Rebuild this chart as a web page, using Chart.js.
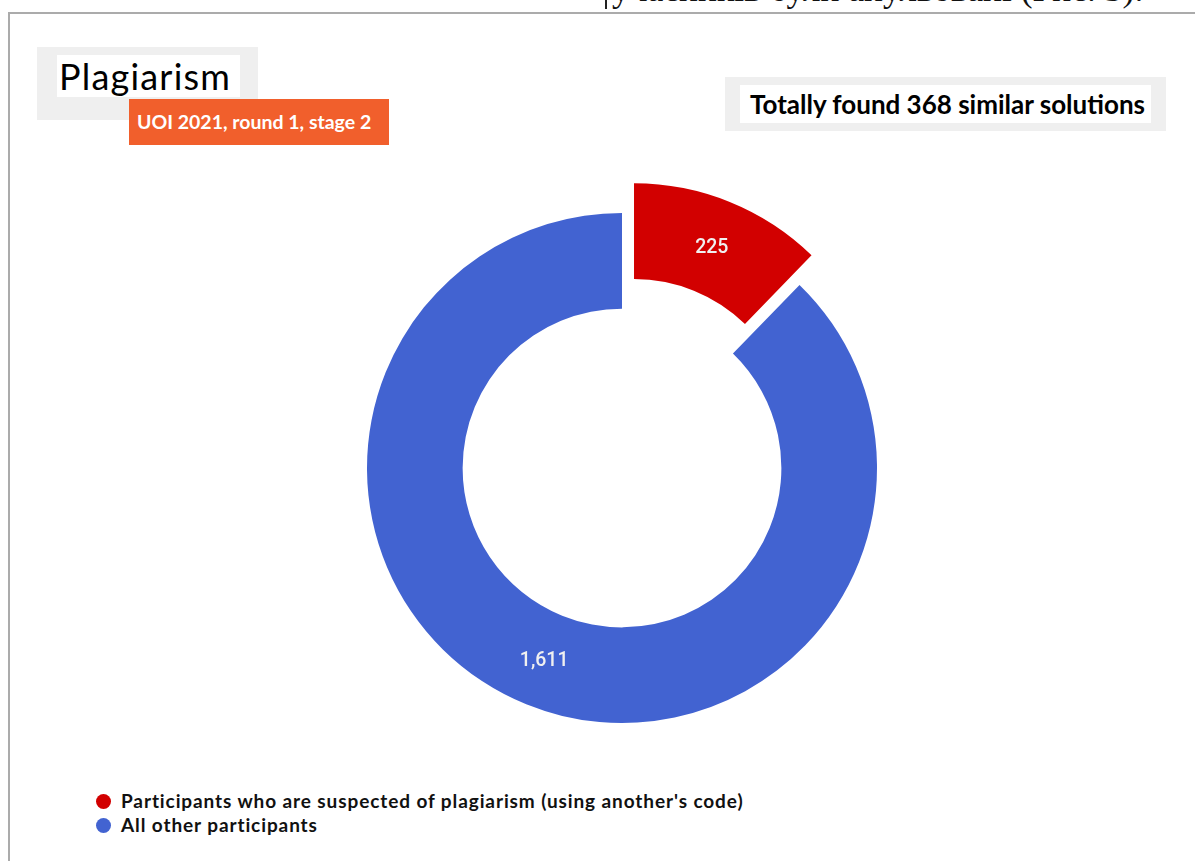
<!DOCTYPE html>
<html>
<head>
<meta charset="utf-8">
<script src="https://cdn.jsdelivr.net/npm/chart.js@4.4.0/dist/chart.umd.min.js"></script>
<style>
  html, body { margin: 0; padding: 0; background: #ffffff; }
  #page { position: relative; width: 1195px; height: 861px; overflow: hidden; background: #fff; }
  .abs { position: absolute; }
  #topText { left: 612px; top: -28px; font-family: "Liberation Serif", "DejaVu Serif", serif; font-size: 35.5px; color: #111; white-space: nowrap; line-height: 1; }
  #cursor { left: 605px; top: 0px; width: 2px; height: 9px; background: #222; }
  #frameTop { left: 8px; top: 12px; width: 1187px; height: 2px; background: #ababab; }
  #frameLeft { left: 8px; top: 12px; width: 2px; height: 849px; background: #ababab; }
  #titleBg { left: 37px; top: 47px; width: 221px; height: 73px; background: #efefef; }
  #titleWhite { left: 57px; top: 55px; width: 183px; height: 42px; background: #fff; }
  #title { left: 59px; top: 55px; font-family: Lato, "Open Sans", sans-serif; font-size: 36px; letter-spacing: 1.2px; color: #000; line-height: 42px; white-space: nowrap; }
  #subBox { left: 129px; top: 99px; width: 260px; height: 46px; background: #f15f2c; }
  #sub { left: 137px; top: 99px; font-family: Lato, "Open Sans", sans-serif; font-weight: 700; font-size: 19.5px; color: #fff; line-height: 46px; white-space: nowrap; }
  #totBg { left: 725px; top: 77px; width: 441px; height: 54px; background: #efefef; }
  #totWhite { left: 740px; top: 85px; width: 411px; height: 38px; background: #fff; }
  #tot { left: 750px; top: 85px; font-family: Lato, "Open Sans", sans-serif; font-weight: 700; font-size: 26px; color: #000; line-height: 38px; white-space: nowrap; }
  #chartWrap { left: 322px; top: 168px; width: 600px; height: 600px; }
  #legend { left: 96px; top: 789px; font-family: Lato, "Open Sans", sans-serif; font-weight: 700; font-size: 19px; letter-spacing: 0.9px; color: #111; }
  .li { height: 24px; line-height: 24px; white-space: nowrap; display: flex; align-items: center; }
  .dot { width: 15px; height: 15px; border-radius: 50%; margin-right: 10px; display: inline-block; }
</style>
</head>
<body>
<div id="page">
  <div id="cursor" class="abs"></div>
  <div id="topText" class="abs">учасників були анульовані (Рис. 3).</div>
  <div id="frameTop" class="abs"></div>
  <div id="frameLeft" class="abs"></div>

  <div id="titleBg" class="abs"></div>
  <div id="titleWhite" class="abs"></div>
  <div id="title" class="abs">Plagiarism</div>
  <div id="subBox" class="abs"></div>
  <div id="sub" class="abs">UOI 2021, round 1, stage 2</div>

  <div id="totBg" class="abs"></div>
  <div id="totWhite" class="abs"></div>
  <div id="tot" class="abs">Totally found 368 similar solutions</div>

  <div id="chartWrap" class="abs"><canvas id="c" width="600" height="600"></canvas></div>
  <div id="legend" class="abs"></div>
</div>
<script>
// ---- data ----
const categories = [
  "Participants who are suspected of plagiarism (using another's code)",
  "All other participants"
];
const values = [225, 1611];
const sliceColors = ["#d20000", "#4263d1"];
const sliceOffsets = [32, 0];   // explode distance in px

// ---- legend (HTML, built from data) ----
const legendEl = document.getElementById('legend');
categories.forEach((label, i) => {
  const row = document.createElement('div');
  row.className = 'li';
  const dot = document.createElement('span');
  dot.className = 'dot';
  dot.style.background = sliceColors[i];
  row.appendChild(dot);
  row.appendChild(document.createTextNode(label));
  legendEl.appendChild(row);
});

// ---- explode slices (pure translation along mid-angle) ----
const explode = {
  id: 'explode',
  afterDatasetsUpdate(chart) {
    const meta = chart.getDatasetMeta(0);
    meta.data.forEach((arc, i) => {
      const d = sliceOffsets[i] || 0;
      if (!d) return;
      const mid = (arc.startAngle + arc.endAngle) / 2;
      arc.x += Math.cos(mid) * d;
      arc.y += Math.sin(mid) * d;
    });
  }
};

// ---- in-slice value labels ----
const valueLabels = {
  id: 'valueLabels',
  afterDatasetsDraw(chart) {
    const ctx = chart.ctx;
    const meta = chart.getDatasetMeta(0);
    ctx.save();
    ctx.font = '500 19.5px Roboto, "Noto Sans", sans-serif';
    ctx.fillStyle = '#f0f0f0';
    ctx.textAlign = 'center';
    ctx.textBaseline = 'middle';
    meta.data.forEach((arc, i) => {
      const mid = (arc.startAngle + arc.endAngle) / 2;
      const r = (arc.innerRadius + arc.outerRadius) / 2;
      const x = arc.x + Math.cos(mid) * r;
      const y = arc.y + Math.sin(mid) * r + 1.5;
      ctx.fillText(values[i].toLocaleString('en-US'), x, y);
    });
    ctx.restore();
  }
};

new Chart(document.getElementById('c'), {
  type: 'doughnut',
  data: {
    labels: categories,
    datasets: [{
      data: values,
      backgroundColor: sliceColors,
      borderWidth: 0,
      hoverOffset: 0,
      clip: false
    }]
  },
  options: {
    responsive: false,
    animation: false,
    cutout: '62.5%',
    layout: { padding: 45 },
    events: [],
    plugins: {
      legend: { display: false },
      tooltip: { enabled: false }
    }
  },
  plugins: [explode, valueLabels]
});
</script>
</body>
</html>
